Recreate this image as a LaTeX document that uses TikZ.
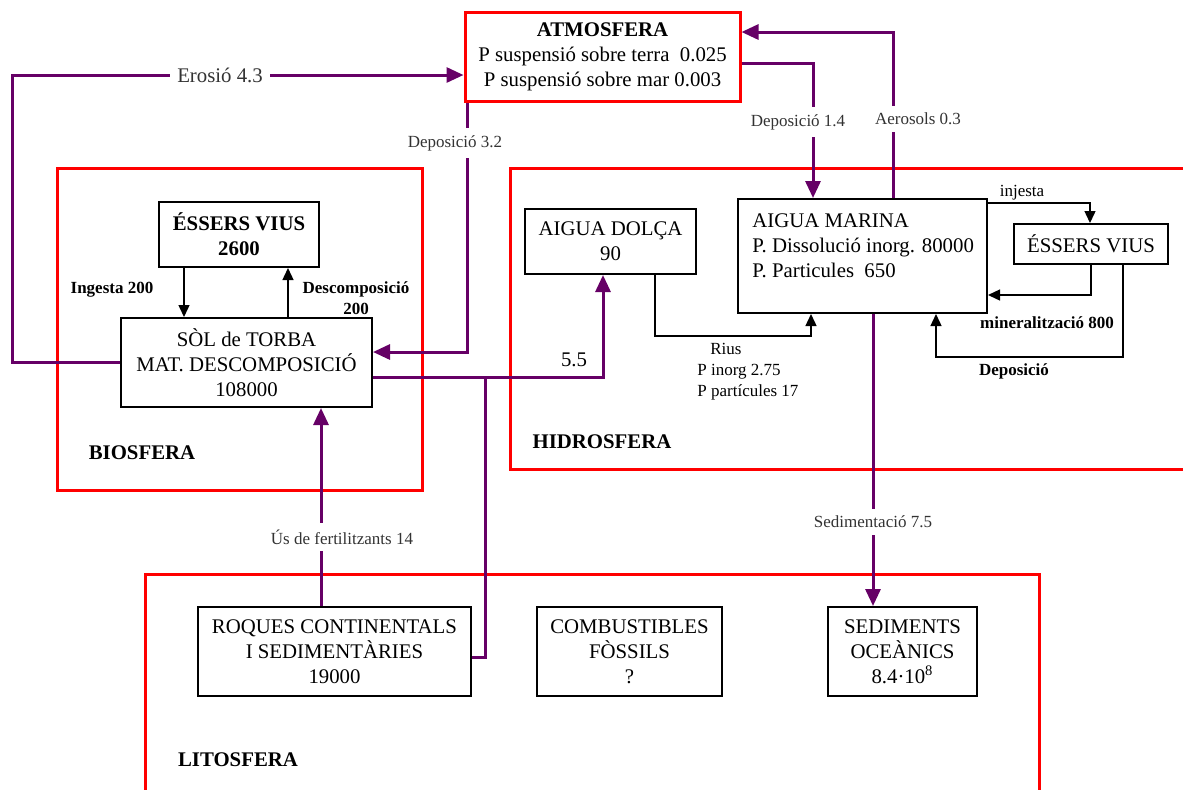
\documentclass[tikz,border=0pt]{standalone}
\usepackage{fontspec}
\setmainfont{Liberation Serif}
\usetikzlibrary{arrows.meta}
\definecolor{flowpurple}{HTML}{660066}
\newcommand{\bigtxt}{\fontsize{10.4}{12.5}\selectfont}
\newcommand{\smalltxt}{\fontsize{8.5}{10.5}\selectfont}

\begin{document}
\begin{tikzpicture}[x=0.5pt, y=-0.5pt,
    box/.style={draw, line width=1pt, inner sep=0pt, align=center, font=\bigtxt},
    zone/.style={red, line width=1.5pt},
    flow/.style={flowpurple, line width=1.5pt, -{Triangle[length=8.5pt,width=7.5pt]}},
    flowline/.style={flowpurple, line width=1.5pt},
    arr/.style={line width=0.7pt, -{Triangle[length=6pt,width=5.5pt]}},
    gap/.style={fill=white, text=black!80, font=\smalltxt, inner sep=3.5pt},
    tag/.style={font=\smalltxt\bfseries, align=center},
    sphere/.style={font=\bigtxt\bfseries}]
    \useasboundingbox (0,0) rectangle (1183,789);
    % Zones
    \draw[zone] (57,168) rectangle (422,490); % biosfera
    \draw[zone] (1190,168) -- (510,168) -- (510,469) -- (1190,469); % hidrosfera
    \draw[zone] (145,795) -- (145,574) -- (1039,574) -- (1039,795); % litosfera
    % Reservoirs
    \node[box, draw=red, line width=1.5pt, minimum width=137.5pt,
    minimum height=44.5pt] (atmos) at (602.5,56.5)
    {\textbf{ATMOSFERA}\\P suspensió sobre terra\ \ 0.025\\P suspensió sobre mar 0.003};
    \node[box, font=\bigtxt\bfseries, minimum width=80pt, minimum height=32.5pt]
    (essersbio) at (239,234.5) {ÉSSERS VIUS\\2600};
    \node[box, minimum width=125.5pt, minimum height=44.5pt] (sol) at (246.5,362.5)
    {SÒL de TORBA\\MAT. DESCOMPOSICIÓ\\108000};
    \node[box, minimum width=85.5pt, minimum height=32.5pt] (dolca) at (610.5,241.5)
    {AIGUA DOLÇA\\90};
    \node[box, minimum width=124.5pt, minimum height=57pt] (marina) at (862.5,256) {};
    \node[anchor=north west, inner sep=0pt, align=left, font=\bigtxt] (marinatxt)
    at (752,213) {AIGUA MARINA\\P. Dissolució inorg. 80000\\P. Particules\ \ 650};
    \node[box, minimum width=77pt, minimum height=20pt] (essershid) at (1091,244)
    {ÉSSERS VIUS};
    \node[box, minimum width=136.5pt, minimum height=44.5pt] (roques) at (334.5,651.5)
    {ROQUES CONTINENTALS\\I SEDIMENTÀRIES\\19000};
    \node[box, minimum width=92.5pt, minimum height=44.5pt] (combust) at (629.5,651.5)
    {COMBUSTIBLES\\FÒSSILS\\?};
    \node[box, minimum width=74.5pt, minimum height=44.5pt] (sedim) at (902.5,651.5)
    {SEDIMENTS\\OCEÀNICS\\8.4·10\textsuperscript{8}};
    % Flows between spheres
    \draw[flow] (sol.west) -- (sol.west -| 12,0) |- (atmos.west |- 0,75);
    \draw[flow] (atmos.south -| 467,0) |- (sol.east |- 0,352);
    \draw[flow] (atmos.east |- 0,63) -| (marina.north -| 813,0);
    \draw[flow] (marina.north -| 893,0) |- (atmos.east |- 0,32);
    \draw[flow] (sol.east |- 0,377) -| (dolca.south -| 603,0);
    \coordinate (join) at (485,377);
    \draw[flowline] (roques.east |- 0,657) -| (join);
    \draw[flow] (roques.north -| 321,0) -- (sol.south -| 321,0);
    \draw[flow] (marina.south -| 873,0) -- (sedim.north -| 873,0);
    % Flows inside spheres
    \draw[arr] (essersbio.south -| 184,0) -- (sol.north -| 184,0);
    \draw[arr] (sol.north -| 288,0) -- (essersbio.south -| 288,0);
    \draw[arr] (dolca.south -| 655,0) |- (811,336) -- (marina.south -| 811,0);
    \draw[arr] (marina.east |- 0,203) -| (essershid.north -| 1090,0);
    \draw[arr] (essershid.south -| 1091,0) |- (marina.east |- 0,295);
    \draw[arr] (essershid.south -| 1123,0) |- (936,357) -- (marina.south -| 936,0);
    % Labels
    \node[gap, font=\bigtxt] (erosio) at (220,75) {Erosió 4.3};
    \node[gap] (dep32) at (455,143) {Deposició 3.2};
    \node[gap] (dep14) at (798,122) {Deposició 1.4};
    \node[gap] (aeros) at (918,119) {Aerosols 0.3};
    \node[gap] (fertil) at (342,537) {Ús de fertilitzants 14};
    \node[gap] (sedimt) at (873,522) {Sedimentació 7.5};
    \node[font=\bigtxt] (rivers) at (574,360) {5.5};
    \node[tag] (ingesta) at (112,290) {Ingesta 200};
    \node[tag] (descomp) at (356,298) {Descomposició\\200};
    \node[font=\smalltxt] (injesta) at (1022,193) {injesta};
    \node[tag] (mineral) at (1047,323) {mineralització 800};
    \node[tag] (depos) at (1014,371) {Deposició};
    \node[anchor=north west, font=\smalltxt, align=left, inner sep=0pt] (rius)
    at (697,343) {\hspace*{6.5pt}Rius\\P inorg 2.75\\P partícules 17};
    \node[sphere] (bio) at (142,453) {BIOSFERA};
    \node[sphere] (hidro) at (602,442) {HIDROSFERA};
    \node[sphere] (lito) at (238,760) {LITOSFERA};
\end{tikzpicture}
\end{document}
